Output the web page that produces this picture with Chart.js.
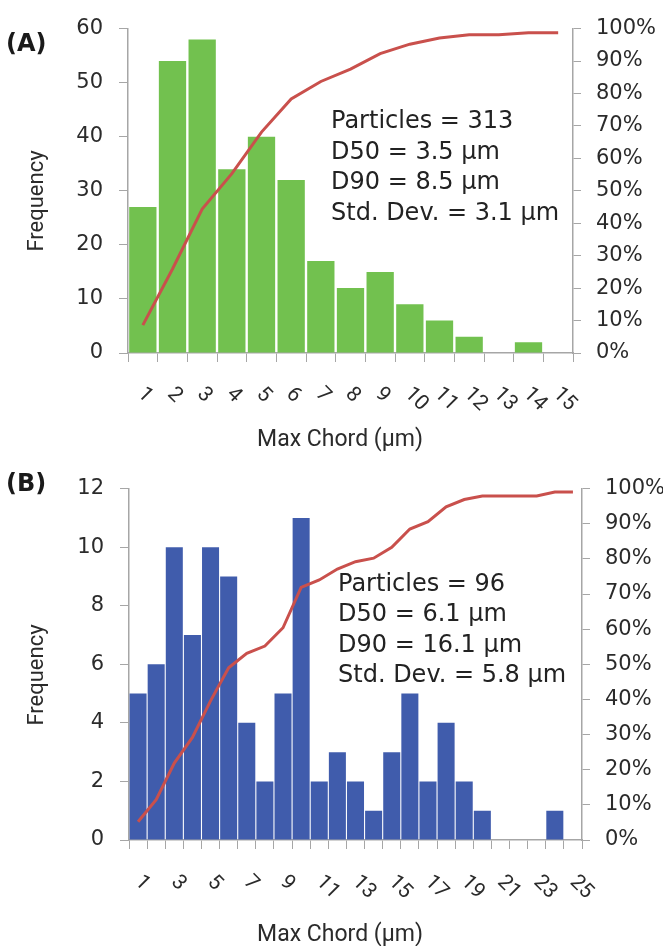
<!DOCTYPE html>
<html><head><meta charset="utf-8">
<script src="https://cdn.jsdelivr.net/npm/chart.js@4.4.1/dist/chart.umd.min.js"></script>
<style>
html,body{margin:0;padding:0;background:#fff;}
canvas{display:block;}
</style></head>
<body>
<canvas id="cA" width="663" height="460"></canvas>
<canvas id="cB" width="663" height="486"></canvas>
<script>
// ---------- Panel A data ----------
const categoriesA = ['1','2','3','4','5','6','7','8','9','10','11','12','13','14','15'];
const frequencyA  = [27, 54, 58, 34, 40, 32, 17, 12, 15, 9, 6, 3, 0, 2, 0];
const cumulativeA = [8.6, 25.9, 44.4, 55.3, 68.1, 78.3, 83.7, 87.5, 92.3, 95.2, 97.1, 98.1, 98.1, 98.7, 98.7];
const shownLabelsA = ['1','2','3','4','5','6','7','8','9','10','11','12','13','14','15'];
const statsA = ['Particles = 313', 'D50 = 3.5 µm', 'D90 = 8.5 µm', 'Std. Dev. = 3.1 µm'];

// ---------- Panel B data ----------
const categoriesB = ['1','2','3','4','5','6','7','8','9','10','11','12','13','14','15','16','17','18','19','20','21','22','23','24','25'];
const frequencyB  = [5, 6, 10, 7, 10, 9, 4, 2, 5, 11, 2, 3, 2, 1, 3, 5, 2, 4, 2, 1, 0, 0, 0, 1, 0];
const cumulativeB = [5.2, 11.5, 21.9, 29.2, 39.6, 49.0, 53.1, 55.2, 60.4, 71.9, 74.0, 77.1, 79.2, 80.2, 83.3, 88.5, 90.6, 94.8, 96.9, 97.9, 97.9, 97.9, 97.9, 99.0, 99.0];
const shownLabelsB = ['1','3','5','7','9','11','13','15','17','19','21','23','25'];
const statsB = ['Particles = 96', 'D50 = 6.1 µm', 'D90 = 16.1 µm', 'Std. Dev. = 5.8 µm'];

const AXIS = '#a6a6a6';
const TXT = '#2b2b2b';

const overlay = {
  id: 'overlay',
  afterDraw(chart, args, o) {
    const ctx = chart.ctx, ca = chart.chartArea, xs = chart.scales.x;
    ctx.save();
    ctx.fillStyle = TXT;
    // rotated category labels
    ctx.font = '21px Roboto';
    ctx.textAlign = 'left';
    ctx.textBaseline = 'middle';
    chart.data.labels.forEach((lab, i) => {
      if (!o.shown.includes(lab)) return;
      const x = xs.getPixelForValue(i);
      ctx.save();
      ctx.translate(x + o.tickDx, ca.bottom + o.tickDy);
      ctx.rotate(Math.PI / 4);
      ctx.fillText(lab, 0, 0);
      ctx.restore();
    });
    // x axis title
    ctx.font = '23px Roboto';
    ctx.textAlign = 'center';
    ctx.textBaseline = 'alphabetic';
    ctx.fillText('Max Chord (µm)', o.xTitleX, o.xTitleY);
    // y axis title
    ctx.save();
    ctx.translate(o.yTitleX, o.yTitleY);
    ctx.rotate(-Math.PI / 2);
    ctx.font = '22px Roboto';
    ctx.fillText('Frequency', 0, 0);
    ctx.restore();
    // panel letter
    ctx.font = 'bold 24px "DejaVu Sans"';
    ctx.textAlign = 'left';
    ctx.fillStyle = '#1a1a1a';
    ctx.fillText(o.panel, o.panelX, o.panelY);
    // stats text
    ctx.font = '24px "DejaVu Sans"';
    ctx.fillStyle = '#222';
    o.stats.forEach((s, i) => ctx.fillText(s, o.statsX, o.statsY + i * 30.5));
    ctx.restore();
  }
};

function makeChart(id, p) {
  return new Chart(document.getElementById(id), {
    type: 'bar',
    data: {
      labels: p.labels,
      datasets: [
        {
          type: 'line', data: p.cum, yAxisID: 'y1', order: 0,
          borderColor: '#c9504c', borderWidth: 3, pointRadius: 0, tension: 0, fill: false
        },
        {
          type: 'bar', data: p.freq, yAxisID: 'y', order: 1,
          backgroundColor: p.color, borderWidth: 0,
          barPercentage: p.barPct, categoryPercentage: 1.0
        }
      ]
    },
    options: {
      responsive: false, animation: false,
      layout: { padding: { top: p.top, left: 0, right: 0, bottom: 0 } },
      plugins: {
        legend: { display: false }, tooltip: { enabled: false },
        overlay: p.overlay
      },
      scales: {
        x: {
          type: 'category', offset: true,
          grid: { display: true, offset: true, drawOnChartArea: false, drawTicks: true, tickLength: 9, color: AXIS, lineWidth: 1 },
          border: { color: AXIS, width: 1.5 },
          ticks: { display: false },
          afterFit(s) { s.height = p.xH; }
        },
        y: {
          position: 'left', min: 0, max: p.yMax,
          ticks: { stepSize: p.yStep, color: TXT, padding: 16, font: { family: 'DejaVu Sans', size: 21 } },
          grid: { drawOnChartArea: false, drawTicks: true, tickLength: 9, color: AXIS },
          border: { color: AXIS, width: 1.5 },
          afterFit(s) { s.width = p.leftW; }
        },
        y1: {
          position: 'right', min: 0, max: 100,
          ticks: { stepSize: 10, color: TXT, padding: 15, font: { family: 'DejaVu Sans', size: 21 }, callback: v => v + '%' },
          grid: { drawOnChartArea: false, drawTicks: true, tickLength: 8, color: AXIS },
          border: { color: AXIS, width: 1.5 },
          afterFit(s) { s.width = p.rightW; }
        }
      }
    },
    plugins: [overlay]
  });
}

makeChart('cA', {
  labels: categoriesA, freq: frequencyA, cum: cumulativeA, color: '#72c14f', barPct: 0.92,
  yMax: 60, yStep: 10, top: 25, xH: 107, leftW: 128, rightW: 90,
  overlay: { shown: shownLabelsA, tickDx: -2, tickDy: 38, xTitleX: 340, xTitleY: 446,
    yTitleX: 43, yTitleY: 201, panel: '(A)', panelX: 6, panelY: 51,
    stats: statsA, statsX: 331, statsY: 128 }
});

makeChart('cB', {
  labels: categoriesB, freq: frequencyB, cum: cumulativeB, color: '#405cac', barPct: 0.94,
  yMax: 12, yStep: 2, top: 26, xH: 106, leftW: 129, rightW: 81,
  overlay: { shown: shownLabelsB, tickDx: 0, tickDy: 39, xTitleX: 340, xTitleY: 481,
    yTitleX: 43, yTitleY: 215, panel: '(B)', panelX: 6, panelY: 31,
    stats: statsB, statsX: 338, statsY: 130.5 }
});
</script>
</body></html>
